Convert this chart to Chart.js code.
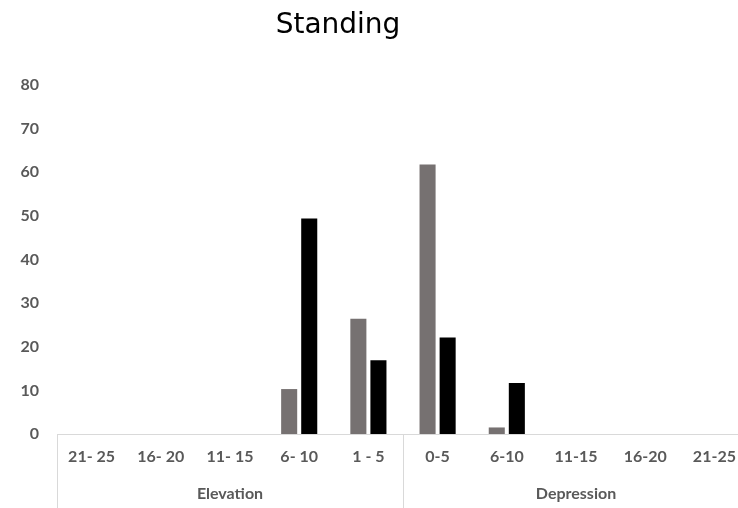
<!DOCTYPE html>
<html>
<head>
<meta charset="utf-8">
<script src="https://cdn.jsdelivr.net/npm/chart.js@4"></script>
<style>
    html, body { margin: 0; padding: 0; background: #fff; overflow: hidden; }
    #marco { position: relative; width: 738px; height: 508px; overflow: hidden; }
    #lienzo { position: absolute; left: 0; top: 0; width: 760px; height: 508px; }
</style>
</head>
<body>
<div id="marco"><div id="lienzo"><canvas id="grafico"></canvas></div></div>
<script>
// Datos
const titulo = 'Standing';
const categorias = ['21- 25', '16- 20', '11- 15', '6- 10', '1 - 5', '0-5', '6-10', '11-15', '16-20', '21-25'];
const grupos = ['Elevation', 'Depression'];
const tamanoGrupo = [5, 5];
const serieGris = [0, 0, 0, 10.3, 26.4, 61.8, 1.5, 0, 0, 0];
const serieNegra = [0, 0, 0, 49.4, 16.9, 22.1, 11.7, 0, 0, 0];
const yMax = 80;
const yPaso = 10;

const colorTexto = '#595959';
const colorLinea = '#d9d9d9';
const fuente = 'Lato, "Open Sans", sans-serif';

// Plugin: titulo, linea del eje y etiquetas de grupo (eje de varios niveles)
const ejeGrupos = {
    id: 'ejeGrupos',
    afterDraw(chart) {
        const ctx = chart.ctx;
        const area = chart.chartArea;
        const x = chart.scales.x;
        const ancho = (area.right - area.left) / categorias.length;
        const altoCanvas = chart.height;

        ctx.save();
        // Titulo
        ctx.fillStyle = '#000';
        ctx.font = '28px "DejaVu Sans", sans-serif';
        ctx.textAlign = 'center';
        ctx.textBaseline = 'alphabetic';
        ctx.fillText(titulo, 338, 33);

        // Linea del eje
        ctx.strokeStyle = colorLinea;
        ctx.lineWidth = 1;
        ctx.beginPath();
        ctx.moveTo(area.left, Math.round(area.bottom) + 0.5);
        ctx.lineTo(area.right, Math.round(area.bottom) + 0.5);
        ctx.stroke();

        // Separadores y etiquetas de grupo
        let inicio = 0;
        ctx.font = 'bold 16px ' + fuente;
        ctx.fillStyle = colorTexto;
        ctx.textBaseline = 'middle';
        grupos.forEach((g, i) => {
            const fin = inicio + tamanoGrupo[i];
            const x0 = x.getPixelForValue(inicio) - ancho / 2;
            const x1 = x.getPixelForValue(fin - 1) + ancho / 2;
            [x0, x1].forEach(px => {
                ctx.beginPath();
                ctx.moveTo(Math.round(px) + 0.5, area.bottom);
                ctx.lineTo(Math.round(px) + 0.5, altoCanvas);
                ctx.stroke();
            });
            ctx.fillText(g, (x0 + x1) / 2, 494);
            inicio = fin;
        });
        ctx.restore();
    }
};

const ctx = document.getElementById('grafico').getContext('2d');
const chart = new Chart(ctx, {
    type: 'bar',
    data: {
        labels: categorias,
        datasets: [{
            label: 'Serie 1',
            data: serieGris,
            backgroundColor: '#767171',
            categoryPercentage: 0.58,
            barPercentage: 0.8
        }, {
            label: 'Serie 2',
            data: serieNegra,
            backgroundColor: '#000000',
            categoryPercentage: 0.58,
            barPercentage: 0.8
        }]
    },
    options: {
        responsive: true,
        maintainAspectRatio: false,
        animation: false,
        layout: { padding: { top: 85, right: 11, left: 0, bottom: 0 } },
        plugins: {
            legend: { display: false },
            title: { display: false },
            tooltip: { enabled: false }
        },
        scales: {
            y: {
                min: 0,
                max: yMax,
                grid: { display: false, drawTicks: false },
                border: { display: false },
                ticks: {
                    stepSize: yPaso,
                    padding: 18,
                    color: colorTexto,
                    font: { family: fuente, size: 16, weight: 'bold' }
                },
                afterFit: function (scale) { scale.width = 57; }
            },
            x: {
                grid: { display: false, drawTicks: false },
                border: { display: false },
                ticks: {
                    padding: 13,
                    maxRotation: 0,
                    autoSkip: false,
                    color: colorTexto,
                    font: { family: fuente, size: 16, weight: 'bold' }
                },
                afterFit: function (scale) { scale.height = 74; }
            }
        }
    },
    plugins: [ejeGrupos]
});
</script>
</body>
</html>
